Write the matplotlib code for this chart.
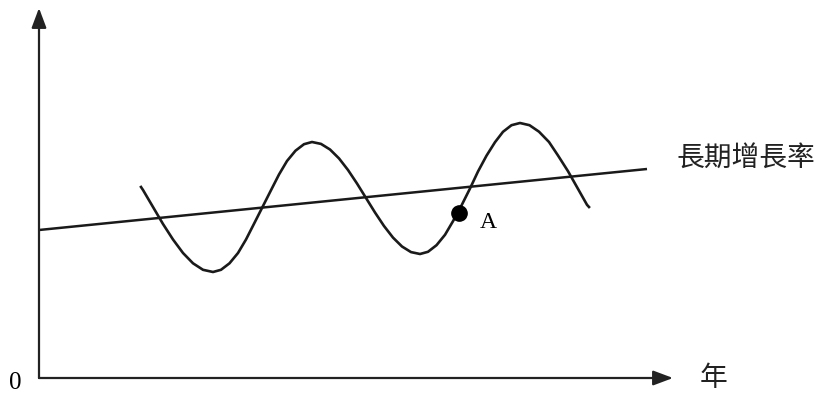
import matplotlib
matplotlib.use("Agg")
import matplotlib.pyplot as plt

# business cycle around long-term growth
wave_x = [102, 104, 114, 124, 134, 144, 154, 164,
          174, 182, 190.5, 199, 207, 215, 223.5, 232, 240, 248, 256.5, 265,
          273, 282, 291, 300, 309, 318, 327, 336, 345, 354, 363, 372,
          381, 389, 397.5, 406, 414, 422.5, 431, 439, 447.5, 456, 464, 472.5,
          481, 490.5, 500, 510, 519, 529, 538.5, 548, 550]
wave_y = [191, 188, 171, 154, 138.5, 125, 114.7, 108.2,
          106, 108.2, 114.7, 125, 138.5, 154.2, 171, 187.8, 203.5, 217, 227.3, 233.8,
          236, 234.1, 228.5, 219.6, 208, 194.5, 180, 165.5, 152, 140.4, 131.5, 125.9,
          124, 126.2, 132.8, 143.2, 156.8, 172.5, 189.5, 206.5, 222.3, 235.8, 246.2, 252.8,
          255, 252.8, 246.3, 236, 222.5, 206.8, 190, 173.2, 171]

trend_x = [0, 608]
trend_y = [148, 209]

point_a = (420, 165)
trend_label = "長期增長率"
x_label = "年"
origin_label = "0"

plt.rcParams['font.family'] = ['Noto Sans CJK TC', 'DejaVu Sans']

fig = plt.figure(figsize=(8.4, 3.95), dpi=100)
ax = fig.add_axes([0, 0, 1, 1])
ax.set_xlim(-39, 801)
ax.set_ylim(-17, 378)
ax.axis('off')

# axes with arrow heads
arrow = dict(arrowstyle='-|>,head_length=0.8,head_width=0.3', lw=1.6, color='#222222',
             mutation_scale=15, shrinkA=0, shrinkB=0)
ax.annotate('', xy=(0, 370), xytext=(0, 0), arrowprops=arrow)
ax.annotate('', xy=(634, 0), xytext=(0, 0), arrowprops=arrow)

ax.plot(trend_x, trend_y, color='#1a1a1a', lw=1.8, solid_capstyle='butt')
ax.plot(wave_x, wave_y, color='#1a1a1a', lw=1.9, solid_joinstyle='round')
ax.plot(*point_a, 'o', color='black', markersize=11)

ax.text(point_a[0] + 29, point_a[1] - 9, "A", fontsize=17, family='Liberation Serif',
        ha='center', va='center')
ax.text(638, 219, trend_label, fontsize=20, ha='left', va='center', color='#222222')
ax.text(675, 0, x_label, fontsize=20, ha='center', va='center', color='#222222')
ax.text(-24, -5, origin_label, fontsize=18, family='Liberation Serif',
        ha='center', va='center')

fig.savefig("out.png", dpi=100)
